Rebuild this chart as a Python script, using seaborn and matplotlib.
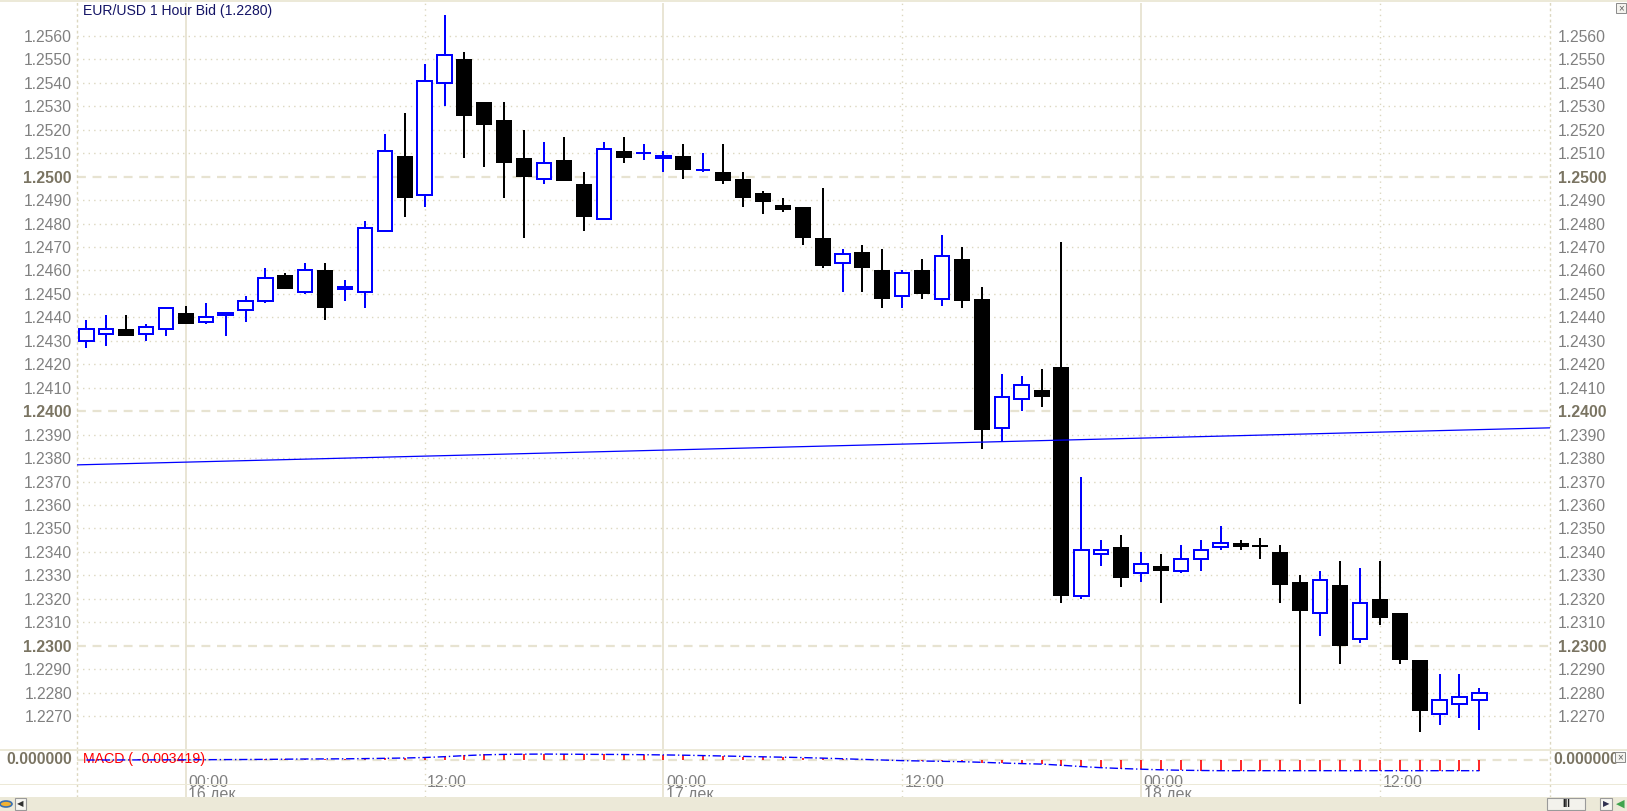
import numpy as np
import pandas as pd
import matplotlib
matplotlib.use("Agg")
import matplotlib.pyplot as plt
import matplotlib.transforms as mtransforms
from matplotlib.patches import Rectangle, Circle
import seaborn as sns

# hourly EUR/USD bid candles, 15 Dec 19:00 .. 18 Dec 17:00
opens = [1.2430, 1.2433, 1.2435, 1.2433, 1.2435, 1.2442, 1.2438, 1.2441, 1.2443, 1.2447,
         1.2458, 1.2451, 1.2460, 1.2452, 1.2451, 1.2477, 1.2509, 1.2492, 1.2540, 1.2550,
         1.2532, 1.2524, 1.2508, 1.2499, 1.2507, 1.2497, 1.2482, 1.2511, 1.2510, 1.2508,
         1.2509, 1.2503, 1.2502, 1.2499, 1.2493, 1.2488, 1.2487, 1.2474, 1.2463, 1.2468,
         1.2460, 1.2449, 1.2460, 1.2448, 1.2465, 1.2448, 1.2393, 1.2405, 1.2409, 1.2419,
         1.2321, 1.2339, 1.2342, 1.2331, 1.2334, 1.2332, 1.2337, 1.2342, 1.2344, 1.2343,
         1.2340, 1.2327, 1.2314, 1.2326, 1.2303, 1.2320, 1.2314, 1.2294, 1.2271, 1.2275,
         1.2277]
highs = [1.2439, 1.2441, 1.2441, 1.2437, 1.2444, 1.2445, 1.2446, 1.2442, 1.2449, 1.2461,
         1.2459, 1.2463, 1.2463, 1.2456, 1.2481, 1.2518, 1.2527, 1.2548, 1.2569, 1.2553,
         1.2532, 1.2532, 1.2520, 1.2515, 1.2517, 1.2502, 1.2515, 1.2517, 1.2514, 1.2511,
         1.2514, 1.2510, 1.2514, 1.2502, 1.2494, 1.2491, 1.2487, 1.2495, 1.2469, 1.2471,
         1.2469, 1.2460, 1.2465, 1.2475, 1.2470, 1.2453, 1.2416, 1.2415, 1.2418, 1.2472,
         1.2372, 1.2345, 1.2347, 1.2340, 1.2339, 1.2343, 1.2345, 1.2351, 1.2345, 1.2346,
         1.2343, 1.2330, 1.2332, 1.2336, 1.2333, 1.2336, 1.2314, 1.2294, 1.2288, 1.2288,
         1.2282]
lows = [1.2427, 1.2428, 1.2432, 1.2430, 1.2432, 1.2437, 1.2437, 1.2432, 1.2438, 1.2446,
        1.2452, 1.2450, 1.2439, 1.2447, 1.2444, 1.2477, 1.2483, 1.2487, 1.2530, 1.2508,
        1.2504, 1.2491, 1.2474, 1.2497, 1.2498, 1.2477, 1.2482, 1.2506, 1.2507, 1.2502,
        1.2499, 1.2502, 1.2497, 1.2487, 1.2484, 1.2485, 1.2471, 1.2461, 1.2451, 1.2451,
        1.2444, 1.2444, 1.2448, 1.2445, 1.2444, 1.2384, 1.2387, 1.2400, 1.2402, 1.2318,
        1.2320, 1.2334, 1.2325, 1.2327, 1.2318, 1.2331, 1.2332, 1.2341, 1.2341, 1.2337,
        1.2318, 1.2275, 1.2304, 1.2292, 1.2301, 1.2309, 1.2292, 1.2263, 1.2266, 1.2269,
        1.2264]
closes = [1.2435, 1.2435, 1.2432, 1.2436, 1.2444, 1.2437, 1.2440, 1.2442, 1.2447, 1.2457,
          1.2452, 1.2460, 1.2444, 1.2453, 1.2478, 1.2511, 1.2491, 1.2541, 1.2552, 1.2526,
          1.2522, 1.2506, 1.2500, 1.2506, 1.2498, 1.2483, 1.2512, 1.2508, 1.2510, 1.2509,
          1.2503, 1.2503, 1.2498, 1.2491, 1.2489, 1.2486, 1.2474, 1.2462, 1.2467, 1.2461,
          1.2448, 1.2459, 1.2450, 1.2466, 1.2447, 1.2392, 1.2406, 1.2411, 1.2406, 1.2321,
          1.2341, 1.2341, 1.2329, 1.2335, 1.2332, 1.2337, 1.2341, 1.2344, 1.2342, 1.2342,
          1.2326, 1.2315, 1.2328, 1.2300, 1.2318, 1.2312, 1.2294, 1.2272, 1.2277, 1.2278,
          1.2280]

# long moving average (straight blue line), start and end
ma_idx = [-1, 74]
ma_val = [1.2377, 1.2393]

# MACD panel
macd = [0.0001, 0.0001, 0.0001, 0.0001, 0.00013, 0.00016, 0.00016, 0.00019, 0.00022, 0.00029,
        0.00032, 0.00038, 0.00042, 0.00045, 0.00051, 0.00064, 0.00077, 0.00096, 0.00128, 0.0016,
        0.00179, 0.00186, 0.00192, 0.00192, 0.00186, 0.00179, 0.00179, 0.00173, 0.00166, 0.0016,
        0.00147, 0.00134, 0.00122, 0.00109, 0.00096, 0.00083, 0.0007, 0.00051, 0.00032, 0.00013,
        -0.00006, -0.00026, -0.00038, -0.00045, -0.00058, -0.0009, -0.00109, -0.00122, -0.00134, -0.00192,
        -0.0023, -0.00262, -0.00282, -0.00301, -0.0032, -0.00333, -0.00339, -0.00342, -0.00342, -0.00342,
        -0.00342, -0.00342, -0.00342, -0.00342, -0.00342, -0.00342, -0.00342, -0.00342, -0.00342, -0.00342,
        -0.00342]
signal = [0.0, 0.0, 0.00003, 0.00003, 0.00006, 0.00006, 0.0001, 0.00013, 0.00016, 0.0002,
          0.00026, 0.00032, 0.00035, 0.00038, 0.00045, 0.00054, 0.00064, 0.0008, 0.00106, 0.0014,
          0.00166, 0.0018, 0.00186, 0.0019, 0.00186, 0.00182, 0.00179, 0.00176, 0.0017, 0.00163,
          0.00154, 0.00141, 0.00128, 0.00115, 0.00102, 0.0009, 0.00077, 0.0006, 0.0004, 0.0002,
          0.0, -0.0002, -0.00032, -0.00042, -0.00054, -0.00074, -0.00096, -0.00115, -0.00131, -0.00168,
          -0.0021, -0.00246, -0.00272, -0.00294, -0.00314, -0.00328, -0.00336, -0.00342, -0.00342, -0.00342,
          -0.00342, -0.00342, -0.00342, -0.00342, -0.00342, -0.00342, -0.00342, -0.00342, -0.00342, -0.00342,
          -0.00342]

price_ticks = [round(1.2270 + 0.001 * k, 4) for k in range(30)]
major_ticks = [1.2300, 1.2400, 1.2500]
time_idx = [5, 17, 29, 41, 53, 65]
time_lbl = ["00:00", "12:00", "00:00", "12:00", "00:00", "12:00"]
date_lbl = ["16 дек", "", "17 дек", "", "18 дек", ""]

df = pd.DataFrame({"i": np.arange(len(opens)), "open": opens, "high": highs,
                   "low": lows, "close": closes})
df["bull"] = df["close"] >= df["open"]
bull = df[df["bull"]]
bear = df[~df["bull"]]

sns.set_style("white")
plt.rcParams["font.family"] = ["Liberation Sans", "DejaVu Sans"]

W, H = 1627, 811
fig = plt.figure(figsize=(W / 100, H / 100), dpi=100)
fig.patch.set_facecolor("white")


def fx(px):
    return px / W


def fy(py):
    return 1 - py / H


def prect(x0, y0, x1, y1, **kw):
    return Rectangle((fx(x0), fy(y1)), (x1 - x0) / W, (y1 - y0) / H,
                     transform=fig.transFigure, **kw)


GRID = "#DCD7C0"
GRID2 = "#E7E3D1"
LBL = "#808080"
xlim = (-0.47, 73.55)

ax = fig.add_axes([fx(77), fy(749), (1550 - 77) / W, (749 - 3) / H])
axm = fig.add_axes([fx(77), fy(797), (1550 - 77) / W, (797 - 751) / H])

for a in (ax, axm):
    a.set_xlim(*xlim)
    a.set_xticks([])
    for s in ("top", "bottom"):
        a.spines[s].set_visible(False)
    for s in ("left", "right"):
        a.spines[s].set_color(GRID)
        a.spines[s].set_linestyle((0, (1, 3)))
        a.spines[s].set_linewidth(1)
    for k, t in zip(time_idx, time_lbl):
        if t == "00:00":
            a.axvline(k, color=GRID2, lw=1.3, zorder=0)
        else:
            a.axvline(k, color=GRID, lw=1, ls=(0, (1, 3)), zorder=0)

# main price panel
ax.set_ylim(1.225595, 1.257407)
for v in price_ticks:
    if v in major_ticks:
        ax.axhline(v, color=GRID2, lw=1.6, ls=(0, (4, 3)), zorder=0)
    else:
        ax.axhline(v, color=GRID, lw=1, ls=(0, (1, 3)), zorder=0)

ax.vlines(bear["i"], bear["low"], bear["high"], color="black", lw=1.44, zorder=2)
ax.bar(bear["i"], bear["open"] - bear["close"], bottom=bear["close"], width=0.8,
       color="black", linewidth=0, zorder=3)
ax.vlines(bull["i"], bull["low"], bull["high"], color="#0000FF", lw=1.44, zorder=2)
ax.bar(bull["i"], bull["close"] - bull["open"], bottom=bull["open"], width=0.72,
       facecolor="white", edgecolor="#0000FF", linewidth=1.44, zorder=3)

sns.lineplot(x=ma_idx, y=ma_val, ax=ax, color="#0000FF", lw=0.9, zorder=4)

ax.set_yticks(price_ticks)
ax.set_yticklabels([f"{v:.4f}" for v in price_ticks])
ax.tick_params(axis="y", length=0, labelleft=True, labelright=True,
               labelsize=11.3, labelcolor=LBL)
for tk, v in zip(ax.yaxis.get_major_ticks(), price_ticks):
    tk.set_pad(3.6)
    tk.label2.set_x(1.0 + 3 / (1550 - 77))
    if v in major_ticks:
        tk.label1.set_fontweight("bold")
        tk.label2.set_fontweight("bold")
        tk.label1.set_color("#7A7462")
        tk.label2.set_color("#7A7462")
ax.set_xlabel("")
ax.set_ylabel("")

# MACD panel
px = 0.00032
axm.set_ylim(-37 * px, 9 * px)
axm.set_yticks([])
axm.axhline(0, color=GRID2, lw=1.6, ls=(0, (4, 3)), zorder=0)
axm.vlines(df["i"], 0, macd, color="#FF0000", lw=1.2, zorder=2)
sns.lineplot(x=df["i"], y=signal, ax=axm, color="#0000FF", lw=1, zorder=3)
axm.lines[-1].set_linestyle((0, (6, 2, 1, 2)))
axm.set_xlabel("")
axm.set_ylabel("")

trans = mtransforms.blended_transform_factory(axm.transData, axm.transAxes)
for k, t, d in zip(time_idx, time_lbl, date_lbl):
    axm.text(k + 0.13, (797 - 775) / 46, t, transform=trans, ha="left", va="top",
             fontsize=11.5, color=LBL, clip_on=True)
    if d:
        axm.text(k + 0.13, (797 - 787) / 46, d, transform=trans, ha="left", va="top",
                 fontsize=11.5, color=LBL, clip_on=True)

axm.text(fx(83), fy(759), "MACD ( -0.003419)", transform=fig.transFigure, ha="left",
         va="center", fontsize=10.2, color="#FF0000", zorder=1)

fig.text(fx(72), fy(760), "0.000000", ha="right", va="center", fontsize=11.4,
         fontweight="bold", color="#7A7462")
fig.text(fx(1553), fy(760), "0.000000", ha="left", va="center", fontsize=11.4,
         fontweight="bold", color="#7A7462")
fig.text(fx(83), fy(11), "EUR/USD 1 Hour Bid (1.2280)", ha="left", va="center",
         fontsize=10.1, color="#141466")

# frame pieces of the trading terminal window
fig.add_artist(prect(0, 0, W, 2, color="#ECE9D8", lw=0))
fig.add_artist(prect(0, 748.5, W, 751, color="#ECE9D8", lw=0))
fig.add_artist(prect(0, 784, W, 785, color="#ECE9D8", lw=0))
fig.add_artist(prect(0, 797, W, H, color="#ECE9D8", lw=0))

for (x0, y0) in [(1616, 3), (1615, 752)]:
    fig.add_artist(prect(x0, y0, x0 + 10, y0 + 10, facecolor="#F4F3EE",
                         edgecolor="#8A8A8A", lw=0.7, zorder=5))
    fig.text(fx(x0 + 5), fy(y0 + 5), "×", ha="center", va="center", fontsize=7,
             color="#606060", zorder=6)

fig.add_artist(Circle((fx(6), fy(804)), 6 / W, transform=fig.transFigure,
                      facecolor="#F2B233", edgecolor="#3A6FB0", lw=1.2))
fig.add_artist(prect(15, 798, 26, 810, facecolor="#F7F6F1", edgecolor="#9A9A9A", lw=0.8))
fig.text(fx(20.5), fy(804), "◀", ha="center", va="center", fontsize=6, color="#303030",
         family="DejaVu Sans")
fig.add_artist(prect(1547, 798, 1585, 810, facecolor="#F3F2EC", edgecolor="#9A9A9A", lw=0.8))
fig.text(fx(1566), fy(804), "III", ha="center", va="center", fontsize=7,
         fontweight="bold", color="#202020")
fig.add_artist(prect(1600, 798, 1612, 810, facecolor="#F7F6F1", edgecolor="#9A9A9A", lw=0.8))
fig.text(fx(1606), fy(804), "▶", ha="center", va="center", fontsize=6, color="#303050",
         family="DejaVu Sans")
fig.text(fx(1620), fy(804), "◀", ha="center", va="center", fontsize=8, color="#3FA34D",
         family="DejaVu Sans")

fig.savefig("out.png", dpi=100, facecolor="white")
